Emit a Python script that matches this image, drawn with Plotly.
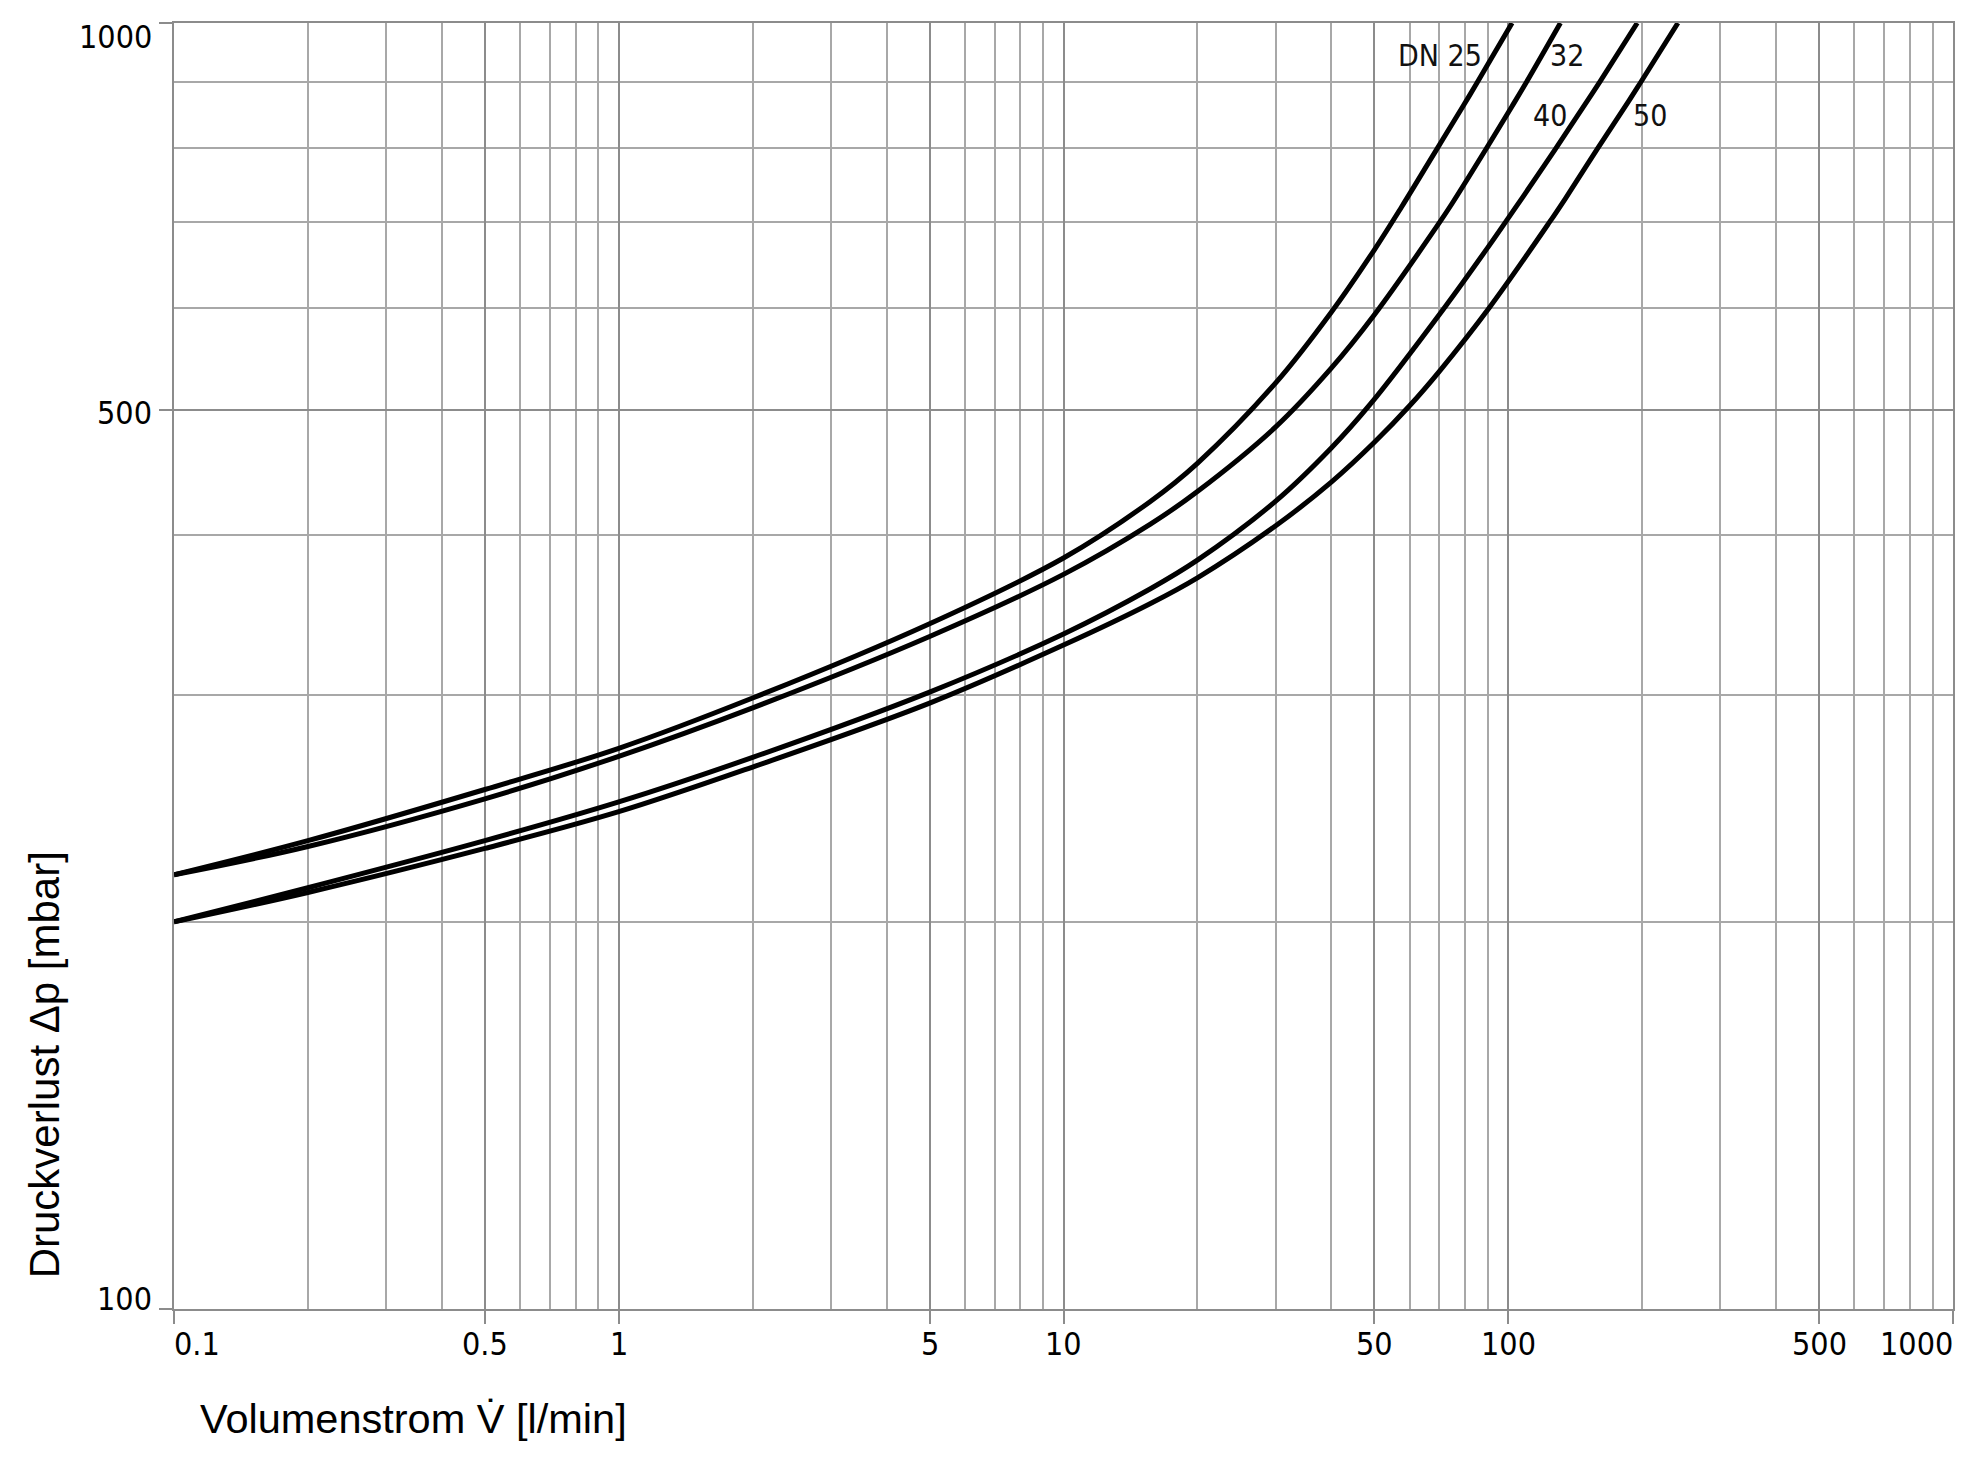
import math
import plotly.graph_objects as go

# ---- data ----
dn25_x = [0.1, 0.2, 0.5, 1, 2, 5, 10, 15.65, 20, 30, 40, 50, 57.6, 68.5, 79.3, 84.5, 102]
dn25_y = [217.6, 231.3, 253.5, 272.9, 298.6, 341.1, 383.7, 424.4, 454.6, 525, 595.8, 666.3, 719.7, 794, 862.6, 894.9, 1000]

dn32_x = [0.1, 0.2, 0.5, 1, 2, 5, 10, 15.65, 20, 30, 40, 50, 70, 74.7, 88.5, 102, 109, 131]
dn32_y = [217.6, 228.9, 249.3, 269, 293.4, 333.4, 372.6, 407.5, 432.2, 485.2, 539, 593.1, 699.4, 723.5, 794.8, 861.6, 895.3, 1000]

dn40_x = [0.1, 0.2, 0.5, 1, 2, 5, 10, 15.65, 20, 30, 40, 48.9, 72, 90, 100, 108.2, 127.5, 151.5, 161.6, 195]
dn40_y = [200, 212.6, 231.3, 247.9, 268.5, 301.8, 334.9, 363, 382.2, 424.8, 467.2, 505.1, 601.2, 669.2, 705.2, 733.5, 797.6, 872.6, 902.8, 1000]

dn50_x = [0.1, 0.2, 0.5, 1, 2, 5, 10, 15.65, 20, 30, 40, 50, 60, 70, 91, 123.8, 134.3, 158.2, 186.4, 198.4, 240.7]
dn50_y = [200, 210.8, 228.1, 243.6, 263.9, 295.9, 328.3, 353.5, 370.3, 406.5, 439.5, 472, 503.9, 536, 601.7, 700, 730, 797, 869, 899, 1000]

series_names = ["DN 25", "32", "40", "50"]
label_x = [70.3, 135.4, 124.1, 208.5]
label_y = [944, 944, 848, 848]

x_tick_vals = [0.1, 0.5, 1, 5, 10, 50, 100, 500, 1000]
x_tick_text = ["0.1", "0.5", "1", "5", "10", "50", "100", "500", "1000"]
x_minor_vals = [m * 10 ** e for e in range(-1, 3) for m in range(2, 10) if m != 5]
y_tick_vals = [100, 500, 1000]
y_tick_text = ["100", "500", "1000"]
y_minor_vals = [200, 300, 400, 600, 700, 800, 900]

x_title = "Volumenstrom V\u0307 [l/min]"
y_title = "Druckverlust \u0394p [mbar]"

# ---- styling ----
NARROW = "Liberation Sans Narrow, Arial Narrow, DejaVu Sans Condensed, sans-serif"
ARIAL = "Liberation Sans, Arial, sans-serif"
MAJ = "#8c8c8c"
MIN = "#a8a8a8"

fig = go.Figure()
for xs, ys, nm in zip([dn25_x, dn32_x, dn40_x, dn50_x], [dn25_y, dn32_y, dn40_y, dn50_y], series_names):
    fig.add_trace(go.Scatter(x=xs, y=ys, mode="lines", name=nm,
                             line=dict(color="black", width=5, shape="spline", smoothing=1.0),
                             showlegend=False, hoverinfo="skip"))

axis_common = dict(type="log", showticklabels=False, ticks="outside", ticklen=13, tickwidth=2,
                   tickcolor=MAJ, showgrid=True, gridcolor=MAJ, gridwidth=2,
                   showline=True, linecolor=MAJ, linewidth=2, mirror=True, zeroline=False)

fig.update_xaxes(range=[-1, 3], tickmode="array", tickvals=x_tick_vals,
                 minor=dict(tickmode="array", tickvals=x_minor_vals, showgrid=True,
                            gridcolor=MIN, gridwidth=1.5, ticks=""),
                 **axis_common)
fig.update_yaxes(range=[2, 3], tickmode="array", tickvals=y_tick_vals,
                 minor=dict(tickmode="array", tickvals=y_minor_vals, showgrid=True,
                            gridcolor=MIN, gridwidth=1.5, ticks=""),
                 **axis_common)

lg = math.log10
ann = []
# x tick labels (annotations on a log axis take log10 positions)
for v, t in zip(x_tick_vals, x_tick_text):
    anchor = "center"
    xs = 0
    if v == x_tick_vals[0]:
        anchor, xs = "left", -2
    elif v == x_tick_vals[-1]:
        anchor, xs = "right", 2
    ann.append(dict(x=lg(v), xref="x", y=0, yref="paper", text=t, showarrow=False,
                    xanchor=anchor, yanchor="middle", xshift=xs, yshift=-35,
                    font=dict(family=NARROW, size=32, color="black")))
# y tick labels
yshifts = {100: 10, 500: -3, 1000: -14}
for v, t in zip(y_tick_vals, y_tick_text):
    ann.append(dict(x=0, xref="paper", y=lg(v), yref="y", text=t, showarrow=False,
                    xanchor="right", yanchor="middle", xshift=-20, yshift=yshifts[v],
                    font=dict(family=NARROW, size=32, color="black")))
# series labels
for nm, lx, ly in zip(series_names, label_x, label_y):
    ann.append(dict(x=lg(lx), xref="x", y=lg(ly), yref="y", text=nm, showarrow=False,
                    xanchor="center", yanchor="middle",
                    font=dict(family=NARROW, size=30, color="#111")))
# axis titles
ann.append(dict(x=0.0135, xref="paper", y=-0.085, yref="paper", text=x_title, showarrow=False,
                xanchor="left", yanchor="middle", font=dict(family=ARIAL, size=41.5, color="black")))
ann.append(dict(x=-0.0727, xref="paper", y=0.19, yref="paper", text=y_title, showarrow=False,
                textangle=-90, xanchor="center", yanchor="middle",
                font=dict(family=ARIAL, size=42, color="black")))

fig.update_layout(width=1970, height=1462, autosize=False,
                  margin=dict(l=174, r=17, t=23, b=153, pad=0),
                  plot_bgcolor="white", paper_bgcolor="white",
                  annotations=ann)

fig.write_html("out.html", config={"displayModeBar": False},
               post_script="document.body.style.margin='0';document.body.style.padding='0';")
